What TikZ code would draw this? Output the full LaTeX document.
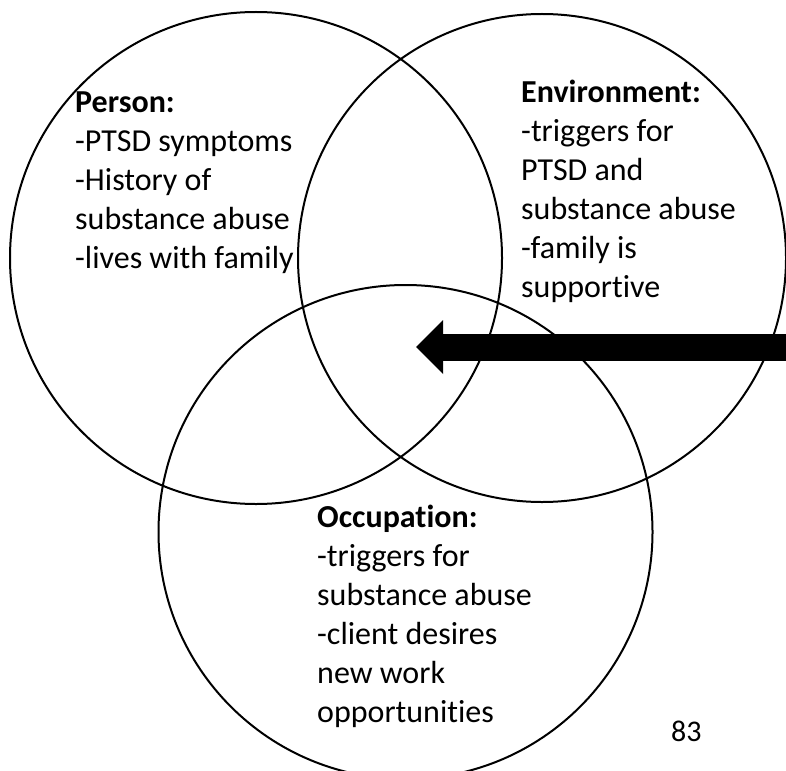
\documentclass[tikz,border=0pt]{standalone}
\usepackage{fontspec}
\setmainfont{Carlito}[Ligatures=NoCommon]
\usetikzlibrary{arrows.meta}
\tikzset{
  ring/.style={draw=black, circle, line width=2pt, inner sep=0pt, minimum size=#1},
  label block/.style={anchor=north west, inner sep=0pt, align=left, font=\fontsize{32}{39}\selectfont},
  big arrow/.style={line width=27pt, -{Triangle[length=27pt,width=54pt,line width=0pt]}}
}
\begin{document}
\begin{tikzpicture}[x=1pt,y=-1pt]
\useasboundingbox (0,0) rectangle (786,770);
\clip (0,0) rectangle (786,770);
\node[ring=492pt] (person) at (256,258) {};
\node[ring=488pt] (environment) at (542,258) {};
\node[ring=494pt] (occupation) at (405.5,532) {};
\coordinate (arrowstart) at (800,347);
\coordinate (arrowtip) at (416,347);
\draw[big arrow] (arrowstart) -- (arrowtip);
\node[label block] (persontext) at (75,84.7) {\strut\textbf{Person:}\\-PTSD symptoms\\-History of\\substance abuse\\-lives with family};
\node[label block] (envtext) at (521,74.7) {\strut\textbf{Environment:}\\-triggers for\\PTSD and\\substance abuse\\-family is\\supportive};
\node[label block] (occtext) at (317,499.7) {\strut\textbf{Occupation:}\\-triggers for\\substance abuse\\-client desires\\new work\\opportunities};
\node[anchor=base west, inner sep=0pt, font=\fontsize{30}{36}\selectfont] (pagenum) at (671,741) {83};
\end{tikzpicture}
\end{document}
